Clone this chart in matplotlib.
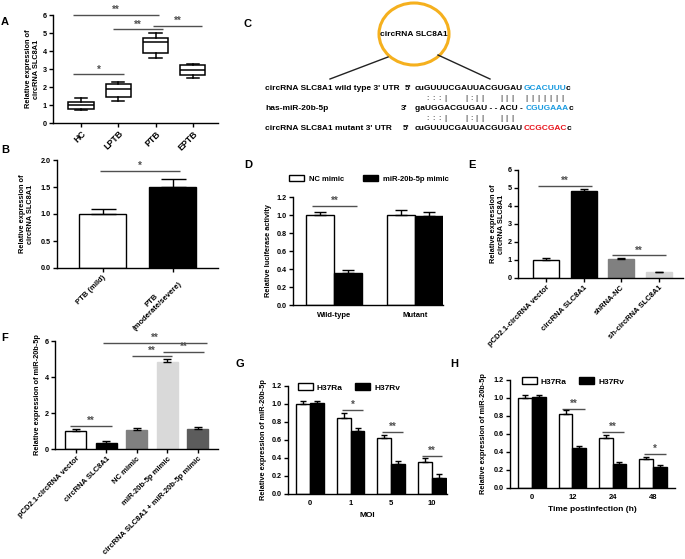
import matplotlib

matplotlib.use("Agg")
import matplotlib.pyplot as plt
import numpy as np
from matplotlib.patches import Ellipse, Patch

plt.rcParams["font.family"] = ["Liberation Sans", "DejaVu Sans"]
plt.rcParams["font.weight"] = "bold"
plt.rcParams["axes.labelweight"] = "bold"
plt.rcParams["font.size"] = 6

W, H = 685, 559

# ---- data ----
# A: box plot summary per group
a_groups = ["HC", "LPTB", "PTB", "EPTB"]
a_whislo = [0.7, 1.25, 3.6, 2.5]
a_q1 = [0.8, 1.45, 3.9, 2.65]
a_med = [1.0, 1.9, 4.5, 2.95]
a_q3 = [1.15, 2.15, 4.7, 3.25]
a_whishi = [1.4, 2.3, 5.0, 3.3]

# B
b_groups = ["PTB (mild)", "PTB\n(moderate/severe)"]
b_mean = [1.0, 1.5]
b_err = [0.1, 0.15]

# D: luciferase
d_groups = ["Wild-type", "Mutant"]
d_nc = [1.0, 1.0]
d_nc_err = [0.03, 0.06]
d_mir = [0.355, 0.99]
d_mir_err = [0.03, 0.04]

# E
e_groups = ["pCD2.1-circRNA vector", "circRNA SLC8A1", "shRNA-NC", "sh-circRNA SLC8A1"]
e_mean = [1.02, 4.82, 1.05, 0.33]
e_err = [0.08, 0.12, 0.05, 0.03]

# F
f_groups = ["pCD2.1-circRNA vector", "circRNA SLC8A1", "NC mimic",
            "miR-20b-5p mimic", "circRNA SLC8A1 + miR-20b-5p mimic"]
f_mean = [1.0, 0.32, 1.05, 4.85, 1.12]
f_err = [0.12, 0.12, 0.1, 0.15, 0.08]

# G: MOI
g_moi = ["0", "1", "5", "10"]
g_ra = [1.0, 0.85, 0.62, 0.36]
g_ra_err = [0.03, 0.05, 0.035, 0.035]
g_rv = [1.01, 0.70, 0.33, 0.18]
g_rv_err = [0.02, 0.03, 0.035, 0.04]

# H: time postinfection
h_time = ["0", "12", "24", "48"]
h_ra = [1.0, 0.82, 0.56, 0.32]
h_ra_err = [0.03, 0.045, 0.03, 0.025]
h_rv = [1.01, 0.44, 0.27, 0.23]
h_rv_err = [0.02, 0.03, 0.02, 0.03]

# significance brackets: (x_start, x_end, y, label) in data units
a_sig = [(-0.21, 2.1, 6.0, "**"), (0.85, 2.19, 5.2, "**"),
         (1.92, 3.25, 5.4, "**"), (-0.21, 1.15, 2.7, "*")]
b_sig = [(-0.04, 1.1, 1.8, "*")]
d_sig = [(-0.27, 0.28, 1.1, "**")]
e_sig = [(-0.21, 1.23, 5.1, "**"), (1.76, 3.2, 1.25, "**")]
f_sig = [(-0.2, 1.18, 1.3, "**"), (0.89, 4.31, 5.9, "**"),
         (1.84, 3.16, 5.17, "**"), (2.86, 4.2, 5.39, "**")]
g_sig = [(0.79, 1.3, 0.93, "*"), (1.77, 2.28, 0.69, "**"), (2.75, 3.24, 0.425, "**")]
h_sig = [(0.74, 1.32, 0.88, "**"), (1.74, 2.28, 0.62, "**"), (2.78, 3.33, 0.38, "*")]

SIG = "#505050"
BLUE = "#1a9be0"
RED = "#e8141c"
TICK_FS = 5.2
LAB_FS = 5.3

fig = plt.figure(figsize=(W / 100, H / 100), dpi=100)


def px_axes(x0, y0, x1, y1):
    return fig.add_axes([x0 / W, 1 - y1 / H, (x1 - x0) / W, (y1 - y0) / H])


def prism(ax):
    for s in ("top", "right"):
        ax.spines[s].set_visible(False)
    for s in ("left", "bottom"):
        ax.spines[s].set_linewidth(1.0)
    ax.tick_params(width=1.0, length=3, labelsize=TICK_FS, pad=1.5)


def sig(ax, specs):
    for x1, x2, y, txt in specs:
        ax.plot([x1, x2], [y, y], color=SIG, lw=1.0, clip_on=False, solid_capstyle="butt")
        ax.text((x1 + x2) / 2, y, txt, ha="center", va="bottom", fontsize=7,
                color=SIG, clip_on=False)


def bars(ax, x, vals, errs, colors, edges, width, capsize):
    ax.bar(x, vals, width, color=colors, edgecolor=edges, linewidth=1.0, zorder=2)
    ax.errorbar(x, vals, yerr=[np.zeros(len(vals)), errs], fmt="none", ecolor="black",
                elinewidth=1.0, capsize=capsize, capthick=1.0, zorder=3)


def rot_labels(ax, labels, fs=5.5):
    ax.set_xticklabels(labels, rotation=45, ha="right", rotation_mode="anchor",
                       multialignment="center", fontsize=fs)


# ---- A ----
ax = px_axes(53, 15, 218, 123)
stats = [dict(whislo=a_whislo[i], q1=a_q1[i], med=a_med[i], q3=a_q3[i],
              whishi=a_whishi[i], fliers=[]) for i in range(len(a_groups))]
ax.bxp(stats, positions=np.arange(4), widths=0.67, capwidths=0.33, patch_artist=True,
       boxprops=dict(facecolor="white", edgecolor="black", lw=1.1),
       medianprops=dict(color="black", lw=1.1),
       whiskerprops=dict(color="black", lw=1.1), capprops=dict(color="black", lw=1.1))
ax.set_xlim(-0.75, 3.67)
ax.set_ylim(0, 6)
ax.set_yticks(range(7))
prism(ax)
ax.set_xticks(np.arange(4))
ax.set_xticklabels(a_groups, rotation=45, ha="right", rotation_mode="anchor", fontsize=6.3)
ax.set_ylabel("Relative expression of\ncircRNA SLC8A1", fontsize=LAB_FS)
ax.yaxis.set_label_coords(-0.079, 0.5)
sig(ax, a_sig)

# ---- B ----
ax = px_axes(57, 160, 218, 268)
bars(ax, np.arange(2), b_mean, b_err, ["white", "black"], ["black", "black"], 0.67, 9)
ax.set_xlim(-0.65, 1.65)
ax.set_ylim(0, 2.0)
ax.set_yticks([0, 0.5, 1.0, 1.5, 2.0])
prism(ax)
ax.set_xticks(np.arange(2))
rot_labels(ax, b_groups)
ax.set_ylabel("Relative expression of\ncircRNA SLC8A1", fontsize=LAB_FS)
ax.yaxis.set_label_coords(-0.143, 0.5)
sig(ax, b_sig)

# ---- D ----
ax = px_axes(293, 197, 443, 305)
xd = np.arange(2)
bars(ax, xd - 0.17, d_nc, d_nc_err, "white", "black", 0.34, 4.5)
bars(ax, xd + 0.17, d_mir, d_mir_err, "black", "black", 0.34, 4.5)
ax.set_xlim(-0.506, 1.345)
ax.set_ylim(0, 1.2)
ax.set_yticks(np.arange(0, 1.21, 0.2))
prism(ax)
ax.set_xticks(xd)
ax.set_xticklabels(d_groups, fontsize=5.5)
ax.tick_params(axis="x", length=0, pad=5)
ax.set_ylabel("Relative luciferase activity", fontsize=LAB_FS)
ax.yaxis.set_label_coords(-0.14, 0.5)
sig(ax, d_sig)
ax.legend(handles=[Patch(facecolor="white", edgecolor="black", lw=1.0, label="NC mimic"),
                   Patch(facecolor="black", edgecolor="black", lw=1.0, label="miR-20b-5p mimic")],
          loc="center left", bbox_to_anchor=(-0.03, 1.167), ncol=2, frameon=False,
          fontsize=5.5, borderpad=0, borderaxespad=0, handlelength=2.0, handleheight=0.9,
          handletextpad=0.7, columnspacing=2.4)

# ---- E ----
ax = px_axes(518, 170, 683, 278)
bars(ax, np.arange(4), e_mean, e_err, ["white", "black", "#808080", "#d4d4d4"],
     ["black", "black", "#808080", "#d4d4d4"], 0.69, 3)
ax.set_xlim(-0.75, 3.65)
ax.set_ylim(0, 6)
ax.set_yticks(range(7))
prism(ax)
ax.set_xticks(np.arange(4))
rot_labels(ax, e_groups)
ax.set_ylabel("Relative expression of\ncircRNA SLC8A1", fontsize=LAB_FS)
ax.yaxis.set_label_coords(-0.079, 0.5)
sig(ax, e_sig)

# ---- F ----
ax = px_axes(55, 341, 218, 449)
bars(ax, np.arange(5), f_mean, f_err, ["white", "black", "#808080", "#d9d9d9", "#5c5c5c"],
     ["black", "black", "#808080", "#d9d9d9", "#5c5c5c"], 0.69, 3)
ax.set_xlim(-0.69, 4.67)
ax.set_ylim(0, 6)
ax.set_yticks([0, 2, 4, 6])
prism(ax)
ax.set_xticks(np.arange(5))
rot_labels(ax, f_groups)
ax.set_ylabel("Relative expression of miR-20b-5p", fontsize=LAB_FS)
ax.yaxis.set_label_coords(-0.086, 0.5)
sig(ax, f_sig)


def grouped(ax, cats, ra, ra_err, rv, rv_err, xlabel, xlim, lab_x, leg_x):
    x = np.arange(len(cats))
    bars(ax, x - 0.17, ra, ra_err, "white", "black", 0.34, 2.5)
    bars(ax, x + 0.17, rv, rv_err, "black", "black", 0.34, 2.5)
    ax.set_xlim(*xlim)
    ax.set_ylim(0, 1.2)
    ax.set_yticks(np.arange(0, 1.21, 0.2))
    prism(ax)
    ax.set_xticks(x)
    ax.set_xticklabels(cats, fontsize=5.5)
    ax.tick_params(axis="x", length=0, pad=4)
    ax.set_xlabel(xlabel, fontsize=6, labelpad=4)
    ax.set_ylabel("Relative expression of miR-20b-5p", fontsize=LAB_FS)
    ax.yaxis.set_label_coords(lab_x, 0.5)
    ax.legend(handles=[Patch(facecolor="white", edgecolor="black", lw=1.0, label="H37Ra"),
                       Patch(facecolor="black", edgecolor="black", lw=1.0, label="H37Rv")],
              loc="center left", bbox_to_anchor=(leg_x, 0.985), ncol=2, frameon=False,
              fontsize=6, borderpad=0, borderaxespad=0, handlelength=1.8,
              handleheight=0.9, handletextpad=0.5, columnspacing=1.5)


ax = px_axes(288, 386, 447, 494)
grouped(ax, g_moi, g_ra, g_ra_err, g_rv, g_rv_err, "MOI", (-0.54, 3.37), -0.13, 0.06)
sig(ax, g_sig)

ax = px_axes(510, 380, 675, 488)
grouped(ax, h_time, h_ra, h_ra_err, h_rv, h_rv_err, "Time postinfection (h)",
        (-0.55, 3.55), -0.14, 0.07)
sig(ax, h_sig)

# ---- C (schematic, pixel coordinates) + panel letters ----
ov = fig.add_axes([0, 0, 1, 1], zorder=5)
ov.set_xlim(0, W)
ov.set_ylim(H, 0)
ov.axis("off")

ov.add_patch(Ellipse((414, 34), 70, 62, fill=False, edgecolor="#f5b01e", lw=2.2))
ov.text(414, 34, "circRNA SLC8A1", ha="center", va="center", fontsize=6)
ov.plot([388, 330], [57, 79], color="#222222", lw=1.0)
ov.plot([438, 490], [55, 79], color="#222222", lw=1.0)

seq_rows = [
    (89, "circRNA SLC8A1 wild type 3' UTR", 405, "5'",
     [("cuGUUUCGAUUACGUGAU", "black"), ("GCACUUU", BLUE), ("c", "black")]),
    (108, "has-miR-20b-5p", 401, "3'",
     [("gaUGGACGUGAU - - ACU - ", "black"), ("CGUGAAA", BLUE), ("c", "black")]),
    (128, "circRNA SLC8A1 mutant 3' UTR", 403, "5'",
     [("cuGUUUCGAUUACGUGAU", "black"), ("CCGCGAC", RED), ("c", "black")]),
]
for y, name, px, prime, segs in seq_rows:
    ov.text(265, y, name, va="center", fontsize=6)
    ov.text(px, y, prime, va="center", fontsize=6)
    prev = ov.text(415, y, segs[0][0], va="center", fontsize=6, color=segs[0][1])
    for seg, col in segs[1:]:
        prev = ov.annotate(seg, xy=(1, 0.5), xycoords=prev, va="center", ha="left",
                           fontsize=6, color=col)

# base-pairing marks: (first x, last x, characters)
pair_groups = [(427, 445, ":::|"), (466, 482, "|:||"), (501, 512, "|||"), (526, 562, "|||||||")]
for row_y, groups in [(99, pair_groups), (118, pair_groups[:3])]:
    for x0, x1, chars in groups:
        for cx, ch in zip(np.linspace(x0, x1, len(chars)), chars):
            ov.text(cx, row_y, ch, ha="center", va="center", fontsize=6, fontweight="normal")

for letter, x, y in [("A", 5, 22), ("B", 5, 150), ("C", 248, 24), ("D", 248, 165),
                     ("E", 472, 165), ("F", 5, 338), ("G", 240, 364), ("H", 454, 364)]:
    ov.text(x, y, letter, ha="center", va="center", fontsize=8)

fig.savefig("out.png", dpi=100)
